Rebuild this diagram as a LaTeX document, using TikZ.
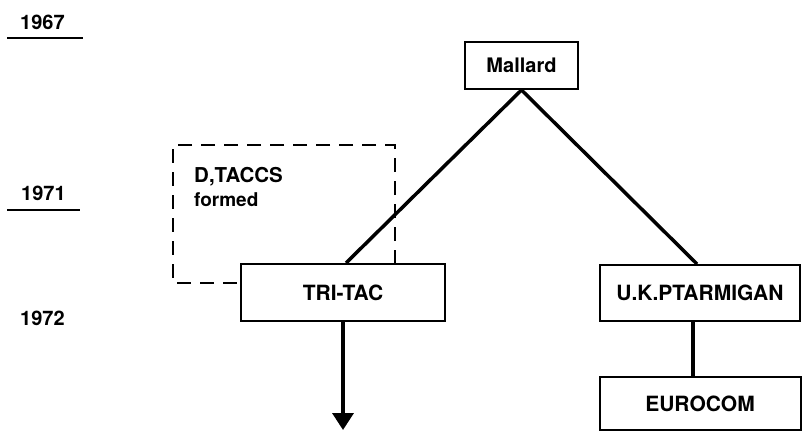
\documentclass[tikz,border=0pt]{standalone}
\usepackage{fontspec}
\setmainfont{TeX Gyre Heros}
\usetikzlibrary{arrows.meta}
\begin{document}
\begin{tikzpicture}[x=1pt,y=-1pt,
  box/.style={draw,line width=2pt,minimum height=#1,inner sep=0pt,font=\fontsize{21}{24}\selectfont\bfseries},
  lbl/.style={inner sep=0pt,font=\fontsize{20}{22}\selectfont\bfseries},
  conn/.style={line width=3.5pt},
  dashbox/.style={line width=2pt,dash pattern=on 14pt off 9pt},
  uline/.style={line width=2.5pt}]
\useasboundingbox (0,0) rectangle (804,432);
% year labels
\node[lbl,anchor=west] (y67) at (20,22) {1967};
\coordinate (u67a) at (7,38); \coordinate (u67b) at (83,38);
\draw[uline] (u67a) -- (u67b);
\node[lbl,anchor=west] (y71) at (21,193) {1971};
\coordinate (u71a) at (7,210); \coordinate (u71b) at (80,210);
\draw[uline] (u71a) -- (u71b);
\node[lbl,anchor=west] (y72) at (20,318) {1972};
% boxes
\node[box=47pt,minimum width=113pt,font=\fontsize{20}{24}\selectfont\bfseries] (mallard) at (521.5,65.5) {Mallard};
\node[box=57pt,minimum width=204pt] (tritac) at (343,292.5) {TRI-TAC};
\node[box=56pt,minimum width=200pt] (ukp) at (700,293) {U.K.PTARMIGAN};
\node[box=53pt,minimum width=201pt] (euro) at (700,403.5) {EUROCOM};
% dashed box
\coordinate (dA) at (395,264);
\coordinate (dB) at (395,145);
\coordinate (dC) at (173,145);
\coordinate (dD) at (173,283);
\coordinate (dE) at (241,283);
\draw[dashbox] (dA) -- (dB) -- (dC) -- (dD) -- (dE);
\node[lbl,anchor=west,font=\fontsize{20.5}{24}\selectfont\bfseries] (dtaccs) at (194,177) {D,TACCS};
\node[lbl,anchor=west,font=\fontsize{19}{22}\selectfont\bfseries] (formed) at (194,200) {formed};
% connectors
\draw[conn] (mallard.south) -- ([xshift=3pt]tritac.north);
\draw[conn] (mallard.south) -- ([xshift=-3pt]ukp.north);
\draw[conn] ([xshift=-7pt]ukp.south) -- ([xshift=-7pt]euro.north);
\coordinate (arrEnd) at (343,430);
\draw[conn,-{Triangle[width=21pt,length=17pt]}] (tritac.south) -- (arrEnd);
\end{tikzpicture}
\end{document}
